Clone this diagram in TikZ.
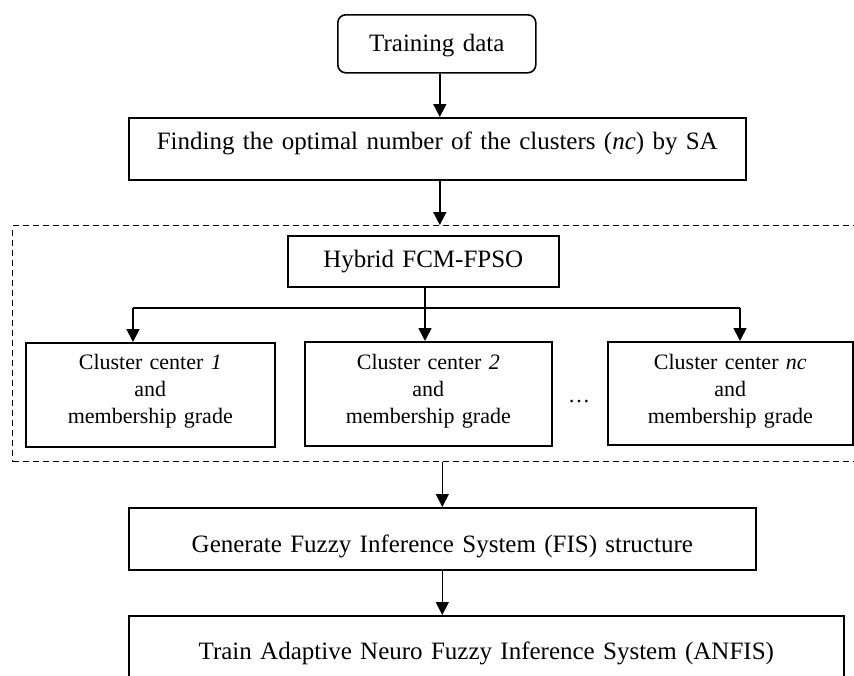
\documentclass[tikz,border=0pt]{standalone}
\usepackage{fontspec}
\setmainfont{Liberation Serif}
\usetikzlibrary{arrows.meta}
\begin{document}
\begin{tikzpicture}[x=1pt,y=-1pt,
  box/.style={draw, line width=1.6pt, inner sep=0pt, anchor=north west,
              align=center, font=\fontsize{25}{30}\selectfont},
  cbox/.style={box, font=\fontsize{22}{27}\selectfont},
  wire/.style={line width=1.7pt},
  thinwire/.style={line width=1.2pt},
  arr/.style={wire, -{Triangle[width=13pt,length=13pt]}},
  thinarr/.style={thinwire, -{Triangle[width=13pt,length=13pt]}},
  dashbox/.style={draw, line width=1.2pt, dash pattern=on 6pt off 4pt,
                  inner sep=0pt, anchor=north west}
]
\useasboundingbox (0,0) rectangle (854,675);

% main flow boxes
\node[box, rounded corners=8pt, text width=198pt, text height=37pt, text depth=21pt]
  (td) at (337,14) {Training data};
\node[box, text width=617pt, text height=32pt, text depth=30pt]
  (find) at (128,117) {Finding the optimal number of the clusters (\textit{nc}) by SA};

% dashed group around the clustering stage
\node[dashbox, minimum width=860pt, minimum height=236pt] (grp) at (12,225) {};

\node[box, text width=271pt, text height=32pt, text depth=19pt]
  (hyb) at (287,235) {Hybrid FCM-FPSO};

\node[cbox, text width=249pt, text height=27pt, text depth=77pt]
  (c1) at (25,342) {Cluster center \textit{1}\\and\\membership grade};
\node[cbox, text width=247pt, text height=28pt, text depth=76pt]
  (c2) at (304,341) {Cluster center \textit{2}\\and\\membership grade};
\node[cbox, text width=245pt, text height=28pt, text depth=75pt]
  (c3) at (607,341) {Cluster center \textit{nc}\\and\\membership grade};
\node[anchor=base, inner sep=0pt, font=\fontsize{22}{27}\selectfont]
  (dots) at (579,402) {\ldots};

\node[box, text width=627pt, text height=45pt, text depth=17pt]
  (gen) at (128,507) {Generate Fuzzy Inference System (FIS) structure};
\node[box, text width=715pt, text height=44pt, text depth=41pt]
  (train) at (128,615) {Train Adaptive Neuro Fuzzy Inference System (ANFIS)};

% connectors
\draw[arr] ([xshift=3pt]td.south) -- ([xshift=3pt]td.south |- find.north);
\draw[arr] ([xshift=2.5pt]find.south) -- ([xshift=2.5pt]find.south |- grp.north);

\coordinate (split) at (425,308);
\coordinate (b1) at (133,308);
\coordinate (b3) at (740,308);
\draw[thinwire] (hyb.south -| split) -- (split);
\draw[wire] (b1) -- (b3);
\draw[arr] (b1) -- (b1 |- c1.north);
\draw[arr] (split) -- (split |- c2.north);
\draw[arr] (b3) -- (b3 |- c3.north);

\draw[thinarr] (gen.north |- grp.south) -- (gen.north);
\draw[thinarr] (gen.south) -- (gen.south |- train.north);
\end{tikzpicture}
\end{document}
